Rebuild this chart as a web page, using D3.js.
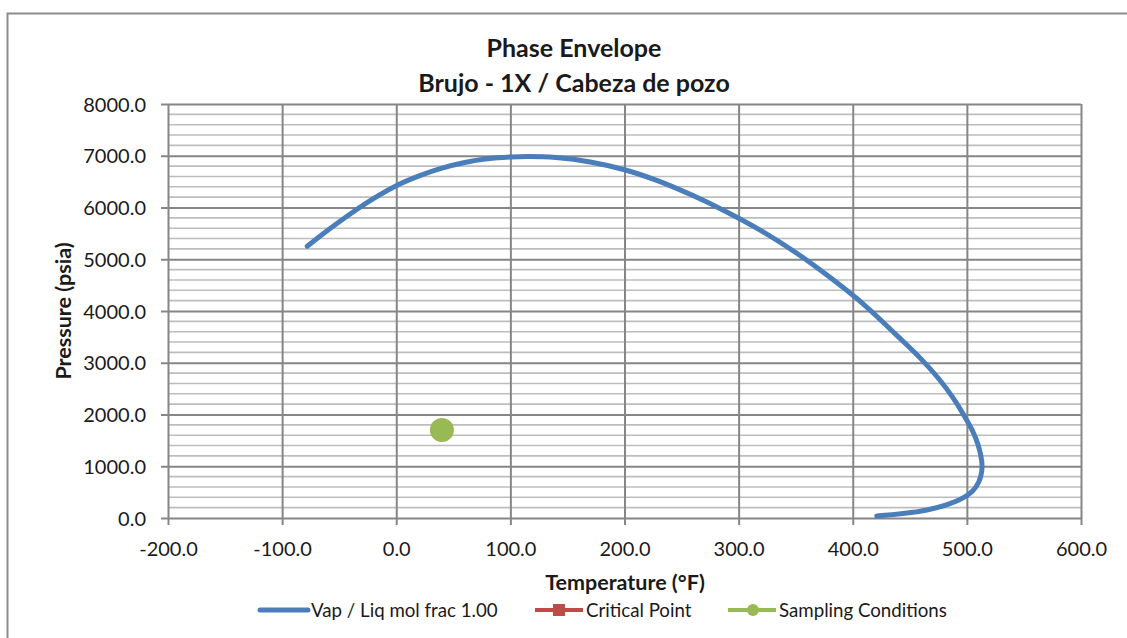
<!DOCTYPE html>
<html>
<head>
<meta charset="utf-8">
<script src="https://cdn.jsdelivr.net/npm/d3@7"></script>
<style>
  body { margin: 0; background: #fff; }
  text { font-family: Lato, "Open Sans", sans-serif; fill: #1a1a1a; }
</style>
</head>
<body>
<svg id="chart" width="1127" height="638"></svg>
<script>
// phase envelope (temperature in F, pressure in psia)
let envTemp = [-78, -60, -40, -20, 0, 20, 40, 60, 80, 100, 115, 140, 170, 200, 230, 260, 290, 320, 350, 380, 410, 440, 460, 475, 487, 497, 505, 510, 513, 513, 510.5, 505, 493, 465, 421];
let envPres = [5250, 5560, 5880, 6170, 6420, 6610, 6760, 6870, 6940, 6975, 6985, 6965, 6880, 6730, 6510, 6230, 5910, 5550, 5130, 4650, 4120, 3500, 3070, 2700, 2350, 2000, 1680, 1400, 1100, 900, 700, 520, 347, 154, 39];

let sampleTemp = [40];
let samplePres = [1700];

let xTicks = [-200, -100, 0, 100, 200, 300, 400, 500, 600];
let yTicks = [0, 1000, 2000, 3000, 4000, 5000, 6000, 7000, 8000];

let legendNames = ['Vap / Liq mol frac 1.00', 'Critical Point', 'Sampling Conditions'];
let legendColors = ['#4a7ebb', '#be4b48', '#98b954'];

let plot = {left: 168, top: 104, right: 1081, bottom: 518};

let svg = d3.select('#chart');

// outer chart frame
svg.append('rect')
  .attr('x', 7.5).attr('y', 13.5)
  .attr('width', 1140).attr('height', 640)
  .attr('fill', 'none')
  .attr('stroke', '#8c8c8c')
  .attr('stroke-width', 2);

let x = d3.scaleLinear().domain([-200, 600]).range([plot.left, plot.right]);
let y = d3.scaleLinear().domain([0, 8000]).range([plot.bottom, plot.top]);

// excel style labels, plain hyphen for negatives
let fmt = function (d) { return d.toFixed(1); };

// minor horizontal grid every 200 psia
let minor = d3.range(200, 8000, 200).filter(function (v) { return v % 1000 != 0; });
svg.append('g').selectAll('line').data(minor).enter().append('line')
  .attr('x1', plot.left).attr('x2', plot.right)
  .attr('y1', function (d) { return y(d); })
  .attr('y2', function (d) { return y(d); })
  .attr('stroke', '#bdbdbd')
  .attr('stroke-width', 1.6);

let xAxis = d3.axisBottom(x)
  .tickValues(xTicks)
  .tickSize(-(plot.bottom - plot.top))
  .tickSizeOuter(0)
  .tickFormat(fmt);

let yAxis = d3.axisLeft(y)
  .tickValues(yTicks)
  .tickSize(-(plot.right - plot.left))
  .tickSizeOuter(0)
  .tickFormat(fmt);

let gx = svg.append('g')
  .attr('transform', 'translate(0,' + plot.bottom + ')')
  .call(xAxis);
let gy = svg.append('g')
  .attr('transform', 'translate(' + plot.left + ',0)')
  .call(yAxis);

[gx, gy].forEach(function (g) {
  g.select('.domain').remove();
  g.selectAll('.tick line').attr('stroke', '#868686').attr('stroke-width', 2);
  g.selectAll('.tick text')
    .style('font-family', 'Lato, sans-serif')
    .style('font-size', '20px')
    .attr('fill', '#1a1a1a');
});

// little tick marks outside the plot
gx.selectAll('.tick').append('line')
  .attr('y1', 0).attr('y2', 7)
  .attr('stroke', '#868686').attr('stroke-width', 2);
gx.selectAll('.tick text').attr('y', 24).attr('dy', '0.71em');
gy.selectAll('.tick').append('line')
  .attr('x1', 0).attr('x2', -7)
  .attr('stroke', '#868686').attr('stroke-width', 2);
gy.selectAll('.tick text').attr('x', -22).attr('dy', '0.36em');

// envelope
let envelope = envTemp.map(function (t, i) { return [t, envPres[i]]; });
let line = d3.line()
  .x(function (d) { return x(d[0]); })
  .y(function (d) { return y(d[1]); })
  .curve(d3.curveCatmullRom.alpha(0.5));

svg.append('path')
  .datum(envelope)
  .attr('d', line)
  .attr('fill', 'none')
  .attr('stroke', legendColors[0])
  .attr('stroke-width', 5)
  .attr('stroke-linecap', 'round');

// sampling conditions
svg.append('g').selectAll('circle').data(sampleTemp).enter().append('circle')
  .attr('cx', function (d) { return x(d); })
  .attr('cy', function (d, i) { return y(samplePres[i]); })
  .attr('r', 12)
  .attr('fill', legendColors[2]);

// titles
svg.append('text')
  .attr('x', 574).attr('y', 57)
  .attr('text-anchor', 'middle')
  .style('font-size', '25px').style('font-weight', 'bold')
  .text('Phase Envelope');
svg.append('text')
  .attr('x', 574).attr('y', 92)
  .attr('text-anchor', 'middle')
  .style('font-size', '25px').style('font-weight', 'bold')
  .text('Brujo - 1X / Cabeza de pozo');

svg.append('text')
  .attr('transform', 'translate(71,311) rotate(-90)')
  .attr('text-anchor', 'middle')
  .style('font-size', '21.5px').style('font-weight', 'bold')
  .text('Pressure (psia)');

svg.append('text')
  .attr('x', 625).attr('y', 590)
  .attr('text-anchor', 'middle')
  .style('font-size', '21.5px').style('font-weight', 'bold')
  .text('Temperature (°F)');

// legend
let legendX = [260, 535, 728];
let legend = svg.append('g');
legendNames.forEach(function (name, i) {
  let lx = legendX[i];
  let ly = 610;
  legend.append('line')
    .attr('x1', lx).attr('x2', lx + 48)
    .attr('y1', ly).attr('y2', ly)
    .attr('stroke', legendColors[i])
    .attr('stroke-width', i == 0 ? 5 : 4)
    .attr('stroke-linecap', i == 0 ? 'round' : 'butt');
  if (i == 1) {
    legend.append('rect')
      .attr('x', lx + 24 - 6).attr('y', ly - 6)
      .attr('width', 12).attr('height', 12)
      .attr('fill', legendColors[i]);
  }
  if (i == 2) {
    legend.append('circle')
      .attr('cx', lx + 25).attr('cy', ly)
      .attr('r', 6)
      .attr('fill', legendColors[i]);
  }
  legend.append('text')
    .attr('x', lx + 51).attr('y', ly)
    .attr('dy', '0.36em')
    .style('font-size', '18.7px')
    .text(name);
});
</script>
</body>
</html>
